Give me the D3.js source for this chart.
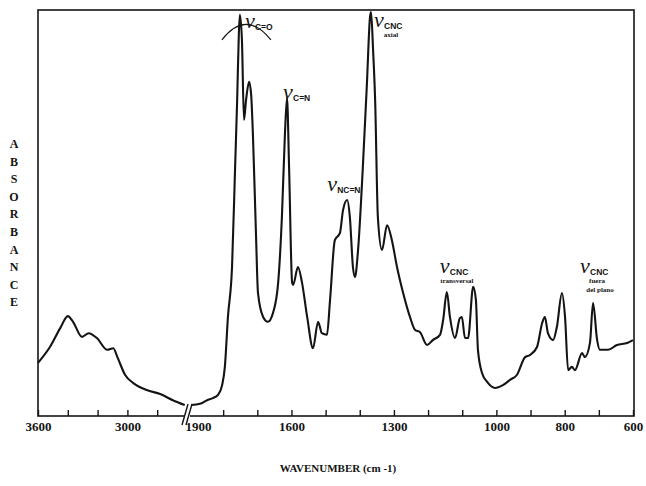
<!DOCTYPE html>
<html>
<head>
<meta charset="utf-8">
<script src="https://cdn.jsdelivr.net/npm/d3@7/dist/d3.min.js"></script>
<style>
  html, body { margin: 0; padding: 0; background: #fff; }
  svg { display: block; }
</style>
</head>
<body>
<svg id="chart" width="646" height="486"></svg>
<script>
// IR spectrum, high-wavenumber region (compressed scale, left of the axis break)
const wnHigh  = [3600, 3520, 3450, 3400, 3365, 3305, 3260, 3205, 3135, 3095, 3065, 3015, 2960, 2870, 2780, 2695, 2615];
const absHigh = [0.131, 0.170, 0.217, 0.246, 0.232, 0.195, 0.204, 0.192, 0.163, 0.167, 0.143, 0.101, 0.081, 0.064, 0.054, 0.039, 0.027];

// IR spectrum, fingerprint region (1900 – 600 cm-1)
const wnLow = [1894, 1868, 1847, 1830, 1815, 1803, 1795, 1786, 1774, 1765, 1759, 1754, 1751, 1745, 1739, 1733,
  1724, 1718, 1713, 1704, 1698, 1683, 1669, 1654, 1639, 1628, 1619, 1613, 1607, 1598, 1595, 1581,
  1569, 1554, 1537, 1522, 1511, 1496, 1487, 1473, 1458, 1449, 1437, 1429, 1420, 1414, 1405, 1391,
  1379, 1370, 1367, 1361, 1355, 1347, 1335, 1320, 1306, 1291, 1273, 1253, 1238, 1224, 1203, 1186,
  1165, 1156, 1145, 1136, 1121, 1107, 1101, 1092, 1083, 1068, 1060, 1054, 1042, 1027, 1004, 981,
  960, 940, 916, 902, 881, 866, 858, 849, 834, 823, 808, 799, 790, 779, 770, 749,
  741, 726, 717, 705, 697, 673, 647, 617, 600];
const absLow = [0.027, 0.030, 0.039, 0.044, 0.052, 0.076, 0.121, 0.244, 0.367, 0.613, 0.778, 0.943, 0.988, 0.926, 0.729, 0.778,
  0.823, 0.791, 0.697, 0.451, 0.303, 0.244, 0.232, 0.254, 0.328, 0.490, 0.697, 0.783, 0.613, 0.328, 0.323, 0.367,
  0.328, 0.244, 0.167, 0.232, 0.204, 0.200, 0.286, 0.433, 0.451, 0.507, 0.532, 0.490, 0.367, 0.342, 0.409, 0.613,
  0.820, 0.983, 0.995, 0.901, 0.778, 0.490, 0.409, 0.470, 0.433, 0.367, 0.303, 0.244, 0.212, 0.207, 0.175, 0.187,
  0.200, 0.236, 0.305, 0.244, 0.192, 0.241, 0.244, 0.192, 0.192, 0.318, 0.286, 0.163, 0.106, 0.084, 0.069, 0.076,
  0.089, 0.101, 0.145, 0.150, 0.170, 0.229, 0.244, 0.204, 0.187, 0.219, 0.303, 0.244, 0.113, 0.121, 0.113, 0.155,
  0.145, 0.180, 0.278, 0.187, 0.163, 0.163, 0.175, 0.180, 0.187];

// Axis ticks and labels
const ticksHigh  = [3600, 3400, 3200, 3000, 2800];
const labelsHigh = [3600, 3000];
const ticksLow   = [1900, 1800, 1700, 1600, 1500, 1400, 1300, 1200, 1100, 1000, 900, 800, 700, 600];
const labelsLow  = [1900, 1600, 1300, 1000, 800, 600];

// Band assignments: peak wavenumber, subscript, extra note lines
const bandPeaks = [1751, 1613, 1437, 1367, 1145, 717];
const bandSubs  = ["C=O", "C=N", "NC=N", "CNC", "CNC", "CNC"];
const bandNotes = [[], [], [], ["axial"], ["transversal"], ["fuera", "del plano"]];

const xTitle = "WAVENUMBER (cm -1)";
const yTitle = "ABSORBANCE";

(function draw() {
  const svg = d3.select("#chart");
  const plotL = 38, plotR = 634, plotT = 10, plotB = 416, breakX = 187;

  const xHigh = d3.scaleLinear().domain([3600, 2600]).range([plotL, breakX]);
  const xLow  = d3.scaleLinear().domain([1900, 600]).range([189, 633]);
  const y = d3.scaleLinear().domain([0, 1]).range([plotB, plotT]);

  const ink = "#141414";
  const serif = "'Liberation Serif', 'DejaVu Serif', serif";

  // Frame
  svg.append("rect")
    .attr("x", plotL).attr("y", plotT)
    .attr("width", plotR - plotL).attr("height", plotB - plotT)
    .attr("fill", "none").attr("stroke", ink).attr("stroke-width", 1.6);

  // Spectrum traces
  const line = d3.line().curve(d3.curveMonotoneX);
  const ptsHigh = wnHigh.map((w, i) => [xHigh(w), y(absHigh[i])]);
  const ptsLow  = wnLow.map((w, i) => [xLow(w), y(absLow[i])]);
  [ptsHigh, ptsLow].forEach(p => {
    svg.append("path").attr("d", line(p))
      .attr("fill", "none").attr("stroke", ink)
      .attr("stroke-width", 2.1).attr("stroke-linejoin", "round");
  });

  // Bottom axes (ticks pointing inward)
  function drawAxis(scale, ticks, labels) {
    const g = svg.append("g").attr("transform", `translate(0,${plotB})`)
      .call(d3.axisBottom(scale).tickValues(ticks)
        .tickSizeInner(-6).tickSizeOuter(0).tickPadding(6)
        .tickFormat(d => labels.includes(d) ? d : ""));
    g.select(".domain").remove();
    g.selectAll(".tick line").attr("stroke", ink).attr("stroke-width", 1.4);
    g.selectAll(".tick text")
      .attr("fill", ink)
      .style("font-family", serif).style("font-weight", "bold").style("font-size", "13px");
    return g;
  }
  drawAxis(xHigh, ticksHigh, labelsHigh);
  const gLow = drawAxis(xLow, ticksLow, labelsLow);
  // first label of the fingerprint region sits just right of the break
  gLow.selectAll(".tick").filter(d => d === 1900).each(function () {
    d3.select(this).select("line").remove();
    d3.select(this).select("text").attr("text-anchor", "start").attr("x", -4);
  });

  // Axis break marks
  svg.append("rect").attr("x", breakX - 2).attr("y", plotB - 3)
    .attr("width", 5).attr("height", 6).attr("fill", "#fff");
  [-2, 2].forEach(o => {
    svg.append("line")
      .attr("x1", breakX + o - 3).attr("y1", plotB + 9)
      .attr("x2", breakX + o + 3).attr("y2", plotB - 12)
      .attr("stroke", ink).attr("stroke-width", 1.4);
  });

  // Axis titles
  svg.append("text").attr("x", 338).attr("y", 472)
    .attr("text-anchor", "middle").attr("fill", ink)
    .style("font-family", serif).style("font-weight", "bold").style("font-size", "11px")
    .text(xTitle);

  svg.append("g").selectAll("text").data(yTitle.split("")).join("text")
    .attr("x", 14).attr("y", (d, i) => 148 + i * 17.6)
    .attr("text-anchor", "middle").attr("fill", ink)
    .style("font-family", serif).style("font-weight", "bold").style("font-size", "12px")
    .text(d => d);

  // Band labels: ν with subscript, offsets relative to each peak
  const placement = [
    { dx: 5,   dy: 13 },
    { dx: -4,  dy: 1 },
    { dx: -20, dy: -9 },
    { dx: 3,   dy: 15 },
    { dx: -7,  dy: -19 },
    { dx: -13, dy: -30 }
  ];
  bandPeaks.forEach((w, i) => {
    const k = wnLow.indexOf(w);
    const px = xLow(w) + placement[i].dx;
    const py = y(absLow[k]) + placement[i].dy;
    svg.append("text").attr("x", px).attr("y", py).attr("fill", ink)
      .style("font-family", serif).style("font-style", "italic").style("font-size", "22px")
      .text("ν");
    svg.append("text").attr("x", px + 10).attr("y", py + 2).attr("fill", ink)
      .style("font-family", "'Liberation Sans', Arial, sans-serif").style("font-weight", "bold")
      .style("font-size", "8.5px")
      .text(bandSubs[i]);
    bandNotes[i].forEach((t, j) => {
      const wide = bandNotes[i].length > 1 && j === 1;
      svg.append("text")
        .attr("x", wide ? px + 20 : px + 17).attr("y", py + 10 + j * 9)
        .attr("text-anchor", "middle").attr("fill", ink)
        .style("font-family", serif).style("font-weight", "bold").style("font-size", "7px")
        .text(t);
    });
  });

  // Bracket over the carbonyl doublet
  const cx = xLow(1751), cy = y(absLow[wnLow.indexOf(1751)]);
  svg.append("path")
    .attr("d", `M${cx - 18},${cy + 25} Q${cx + 6},${cy - 6} ${cx + 31},${cy + 25}`)
    .attr("fill", "none").attr("stroke", ink).attr("stroke-width", 1.2);
})();
</script>
</body>
</html>
